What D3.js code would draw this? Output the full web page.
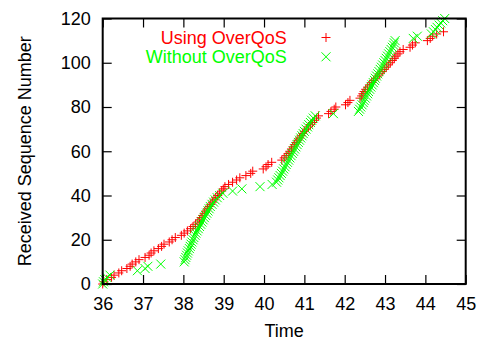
<!DOCTYPE html>
<html>
<head>
<meta charset="utf-8">
<script src="https://cdn.jsdelivr.net/npm/d3@7"></script>
<style>
  body { margin: 0; background: #fff; }
  svg text { font-family: "Liberation Sans", Arial, Helvetica, sans-serif; }
</style>
</head>
<body>
<svg id="chart" width="482" height="341"></svg>
<script>
// [time, received sequence number]
var usingOverQoS = [
  [36.00, 0], [36.03, 1], [36.10, 2], [36.22, 3], [36.28, 4], [36.40, 5], [36.47, 6],
  [36.60, 7], [36.68, 8], [36.73, 9], [36.82, 10], [36.90, 11], [37.05, 12], [37.15, 13],
  [37.20, 14], [37.27, 15], [37.38, 16], [37.46, 17], [37.52, 18], [37.65, 19], [37.72, 20],
  [37.80, 21], [37.95, 22], [38.02, 23], [38.10, 24], [38.18, 25], [38.24, 26], [38.30, 27],
  [38.36, 28], [38.40, 29], [38.44, 30], [38.48, 31], [38.52, 32], [38.56, 33], [38.60, 34],
  [38.64, 35], [38.68, 36], [38.72, 37], [38.76, 38], [38.80, 39], [38.85, 40], [38.90, 41],
  [38.95, 42], [38.99, 43], [39.03, 44], [39.12, 45], [39.22, 46], [39.32, 47], [39.40, 48],
  [39.55, 49], [39.67, 50], [39.72, 51], [39.98, 52], [40.05, 53], [40.10, 54], [40.19, 55],
  [40.44, 56], [40.50, 57], [40.55, 58], [40.60, 59], [40.64, 60], [40.68, 61], [40.72, 62],
  [40.76, 63], [40.80, 64], [40.84, 65], [40.88, 66], [40.92, 67], [40.96, 68], [41.00, 69],
  [41.05, 70], [41.10, 71], [41.15, 72], [41.20, 73], [41.25, 74], [41.30, 75], [41.35, 76],
  [41.60, 77], [41.66, 78], [41.74, 79], [41.78, 80], [42.02, 81], [42.08, 82], [42.13, 83],
  [42.38, 84], [42.42, 85], [42.45, 86], [42.48, 87], [42.52, 88], [42.57, 89], [42.62, 90],
  [42.67, 91], [42.72, 92], [42.77, 93], [42.82, 94], [42.87, 95], [42.93, 96], [42.98, 97],
  [43.03, 98], [43.08, 99], [43.13, 100], [43.18, 101], [43.23, 102], [43.27, 103],
  [43.32, 104], [43.37, 105], [43.45, 106], [43.62, 107], [43.68, 108], [43.75, 109],
  [44.05, 110], [44.12, 111], [44.18, 112], [44.28, 113], [44.45, 114]
];

var withoutOverQoS = [
  [36.00, 0], [36.02, 1], [36.05, 2], [36.10, 3], [36.18, 4], [36.86, 6], [37.05, 7],
  [37.12, 8], [37.44, 9], [38.02, 10],
  [38.04, 11], [38.06, 12], [38.08, 13], [38.10, 14], [38.12, 15], [38.15, 16], [38.17, 17],
  [38.19, 18], [38.21, 19], [38.24, 20], [38.26, 21], [38.29, 22], [38.31, 23], [38.34, 24],
  [38.37, 25], [38.40, 26], [38.43, 27], [38.46, 28], [38.49, 29], [38.52, 30], [38.55, 31],
  [38.58, 32], [38.61, 33], [38.64, 34], [38.67, 35], [38.71, 36], [38.75, 37], [38.79, 38],
  [38.84, 39], [38.90, 40], [38.98, 41],
  [39.22, 42], [39.45, 43], [39.90, 44], [40.20, 45],
  [40.31, 46], [40.34, 47], [40.37, 48], [40.40, 49], [40.43, 50], [40.46, 51], [40.49, 52],
  [40.52, 53], [40.55, 54], [40.58, 55], [40.61, 56], [40.64, 57], [40.67, 58], [40.70, 59],
  [40.73, 60], [40.76, 61], [40.79, 62], [40.82, 63], [40.85, 64], [40.88, 65], [40.91, 66],
  [40.94, 67], [40.97, 68], [41.00, 69], [41.04, 70], [41.08, 71], [41.11, 72], [41.15, 73],
  [41.18, 74], [41.22, 75], [41.27, 76],
  [41.72, 77],
  [42.34, 78], [42.37, 79], [42.40, 80], [42.43, 81], [42.46, 82], [42.48, 83], [42.51, 84],
  [42.54, 85], [42.57, 86], [42.59, 87], [42.62, 88], [42.65, 89], [42.68, 90], [42.71, 91],
  [42.74, 92], [42.76, 93], [42.79, 94], [42.82, 95], [42.85, 96], [42.88, 97], [42.91, 98],
  [42.94, 99], [42.97, 100], [43.00, 101], [43.03, 102], [43.06, 103], [43.09, 104],
  [43.12, 105], [43.15, 106], [43.18, 107], [43.21, 108], [43.23, 109], [43.25, 110],
  [43.70, 111], [43.80, 112],
  [44.15, 113], [44.20, 114], [44.25, 115], [44.29, 116], [44.34, 117], [44.38, 118],
  [44.43, 119], [44.48, 120]
];

var xTicks = [36, 37, 38, 39, 40, 41, 42, 43, 44, 45];
var yTicks = [0, 20, 40, 60, 80, 100, 120];
var seriesNames = ["Using OverQoS", "Without OverQoS"];
var seriesColors = ["#ff0000", "#00ff00"];

var margin = { top: 18.5, right: 16.3, bottom: 57, left: 102.7 },
    width = 482 - margin.left - margin.right,
    height = 341 - margin.top - margin.bottom;

var svg = d3.select("#chart")
  .append("g")
  .attr("transform", "translate(" + margin.left + "," + margin.top + ")");

var x = d3.scaleLinear().domain([36, 45]).range([0, width]);
var y = d3.scaleLinear().domain([0, 120]).range([height, 0]);

// axes, ticks pointing inward on all four sides
svg.append("g")
  .attr("transform", "translate(0," + height + ")")
  .call(d3.axisBottom(x).tickValues(xTicks).tickSizeInner(-9).tickSizeOuter(0).tickPadding(13));
svg.append("g")
  .call(d3.axisLeft(y).tickValues(yTicks).tickSizeInner(-9).tickSizeOuter(0).tickPadding(12));
svg.append("g")
  .call(d3.axisTop(x).tickValues(xTicks).tickSizeInner(-9).tickSizeOuter(0).tickFormat(""));
svg.append("g")
  .attr("transform", "translate(" + width + ",0)")
  .call(d3.axisRight(y).tickValues(yTicks).tickSizeInner(-9).tickSizeOuter(0).tickFormat(""));

svg.selectAll(".domain").remove();
svg.selectAll(".tick line").attr("stroke", "#000").attr("stroke-width", 1.2);
svg.selectAll(".tick text")
  .attr("fill", "#000")
  .style("font-size", "18px");

var symPlus = "M-4.5,0H4.5M0,-4.5V4.5";
var symCross = "M-4.5,-4.5L4.5,4.5M-4.5,4.5L4.5,-4.5";

// Using OverQoS (drawn first)
svg.append("g").selectAll("path")
  .data(usingOverQoS)
  .enter()
  .append("path")
  .attr("transform", function (d) { return "translate(" + x(d[0]) + "," + y(d[1]) + ")"; })
  .attr("d", symPlus)
  .attr("fill", "none")
  .attr("stroke", seriesColors[0])
  .attr("stroke-width", 1);

// Without OverQoS
svg.append("g").selectAll("path")
  .data(withoutOverQoS)
  .enter()
  .append("path")
  .attr("transform", function (d) { return "translate(" + x(d[0]) + "," + y(d[1]) + ")"; })
  .attr("d", symCross)
  .attr("fill", "none")
  .attr("stroke", seriesColors[1])
  .attr("stroke-width", 1);

// frame
svg.append("rect")
  .attr("width", width)
  .attr("height", height)
  .attr("fill", "none")
  .attr("stroke", "#000")
  .attr("stroke-width", 2);

// legend
var legend = svg.append("g");
seriesNames.forEach(function (name, i) {
  var ly = 19 + i * 19.3;
  legend.append("text")
    .attr("x", 286.7 - margin.left)
    .attr("y", ly)
    .attr("dy", "0.35em")
    .attr("text-anchor", "end")
    .attr("fill", seriesColors[i])
    .style("font-size", "18px")
    .text(name);
  legend.append("path")
    .attr("transform", "translate(" + (326 - margin.left) + "," + ly + ")")
    .attr("d", i === 0 ? symPlus : symCross)
    .attr("fill", "none")
    .attr("stroke", seriesColors[i])
    .attr("stroke-width", 1);
});

// axis titles
svg.append("text")
  .attr("x", width / 2)
  .attr("y", height + 52.5)
  .attr("text-anchor", "middle")
  .style("font-size", "18px")
  .text("Time");

svg.append("text")
  .attr("transform", "translate(" + (30.5 - margin.left) + "," + (height / 2) + ") rotate(-90)")
  .attr("text-anchor", "middle")
  .style("font-size", "18px")
  .text("Received Sequence Number");
</script>
</body>
</html>
